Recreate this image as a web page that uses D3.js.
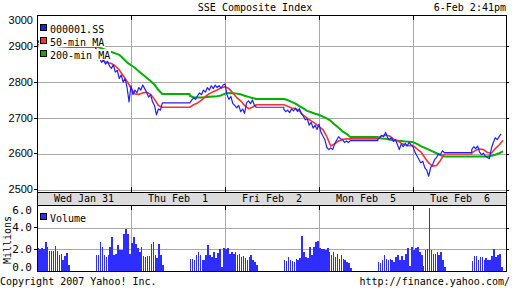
<!DOCTYPE html>
<html>
<head>
<meta charset="utf-8">
<script src="https://d3js.org/d3.v7.min.js"></script>
<style>
  body { margin: 0; background: #fff; }
  svg text { font-family: "DejaVu Sans Mono", monospace; font-size: 10px; fill: #000; }
  svg text.num { font-family: "Liberation Sans", Arial, sans-serif; font-size: 11px; }
  svg text.vnum { font-family: "DejaVu Sans Mono", monospace; font-size: 11px; }
  .grid { stroke: #a8a8a8; stroke-width: 1; shape-rendering: crispEdges; }
  .frame { stroke: #000; stroke-width: 1; shape-rendering: crispEdges; }
</style>
</head>
<body>
<div id="chart"></div>
<script>
// five trading days shown, 48 slots per day
var dayLabels = ["Wed Jan 31", "Thu Feb  1", "Fri Feb  2", "Mon Feb  5", "Tue Feb  6"];
var slotsPerDay = 48;

// slot where each trading session opens (first one is cut at the left edge)
var sessionOpen = [0, 30, 78, 126, 174, 222];

// index, one reading per slot
var close = [
  [2918, 2912, 2922, 2915, 2908, 2912, 2905, 2915, 2910, 2904, 2912, 2906, 2902, 2910, 2905, 2912, 2912],
  [2878, 2862, 2866, 2855, 2862, 2850, 2858, 2845, 2838, 2848, 2828, 2833, 2810, 2820, 2800, 2810, 2785, 2745,
   2790, 2765, 2778, 2770, 2785, 2778, 2792, 2782, 2772, 2758, 2765, 2745, 2735, 2709, 2725, 2722, 2742],
  [2742, 2750, 2756, 2752, 2762, 2770, 2765, 2778, 2772, 2785, 2778, 2790, 2782, 2792, 2785, 2790, 2783, 2792,
   2795, 2765, 2752, 2760, 2740, 2735, 2728, 2735, 2718, 2725, 2713, 2742, 2748, 2740, 2750, 2736, 2730],
  [2725, 2718, 2722, 2715, 2725, 2720, 2728, 2718, 2726, 2712, 2705, 2695, 2698, 2680, 2688, 2672, 2680, 2668,
   2683, 2660, 2650, 2640, 2618, 2612, 2617, 2612, 2628, 2638, 2648, 2642, 2640, 2632, 2636, 2632, 2637],
  [2640, 2645, 2652, 2648, 2660, 2645, 2640, 2645, 2635, 2640, 2627, 2612, 2628, 2620, 2630, 2622, 2632, 2625,
   2620, 2605, 2595, 2585, 2575, 2580, 2562, 2555, 2538, 2562, 2570, 2584, 2590, 2600, 2598, 2609, 2604],
  [2612, 2620, 2615, 2622, 2605, 2598, 2602, 2593, 2590, 2587, 2615, 2632, 2645, 2640, 2648, 2656]
];
// moving averages, one reading every 2 slots
var ma50 = [
  [2905, 2904, 2903, 2902, 2901, 2900, 2899, 2898, 2897],
  [2893, 2872, 2858, 2854, 2852, 2845, 2834, 2818, 2802, 2783, 2767, 2766, 2770, 2772, 2766, 2752, 2735, 2730],
  [2730, 2737, 2742, 2750, 2760, 2768, 2773, 2778, 2784, 2787, 2782, 2770, 2757, 2748, 2735, 2726, 2730, 2737],
  [2737, 2733, 2728, 2726, 2720, 2708, 2700, 2692, 2685, 2676, 2668, 2648, 2622, 2628, 2636, 2640, 2642, 2642],
  [2645, 2650, 2653, 2650, 2642, 2637, 2630, 2625, 2623, 2624, 2614, 2606, 2590, 2575, 2566, 2568, 2582, 2600],
  [2603, 2610, 2614, 2612, 2604, 2602, 2615, 2625, 2638]
];
var ma200 = [
  [2912, 2911, 2910, 2909, 2908, 2907, 2906, 2905, 2904],
  [2900, 2896, 2892, 2888, 2884, 2880, 2876, 2866, 2855, 2847, 2840, 2830, 2821, 2812, 2803, 2793, 2778, 2767],
  [2762, 2758, 2757, 2757, 2758, 2759, 2760, 2761, 2763, 2768, 2770, 2769, 2768, 2766, 2762, 2759, 2756, 2753],
  [2753, 2750, 2745, 2740, 2733, 2727, 2720, 2716, 2712, 2709, 2704, 2699, 2692, 2682, 2673, 2663, 2656, 2647],
  [2645, 2643, 2642, 2640, 2638, 2637, 2636, 2635, 2634, 2633, 2628, 2622, 2617, 2612, 2607, 2602, 2597, 2593],
  [2593, 2593, 2593, 2593, 2593, 2595, 2598, 2602, 2607]
];

// volume in millions, one bar per slot
var volume = [
  [2.1, 2.0, 2.15, 2.05, 2.65, 2.2, 1.85, 1.85, 1.85, 2.3, 1.85, 1.5, 1.6, 1.0, 1.4, 1.7, 0.6],
  [1.5, 1.5, 2.65, 2.2, 1.5, 1.3, 1.5, 2.25, 3.1, 1.5, 1.6, 2.4, 1.9, 1.95, 3.4, 3.9, 3.4, 1.55, 2.55, 3.15, 2.45, 2.1, 1.8, 2.25, 1.4, 1.25, 1.4, 1.4, 2.45, 2.7, 1.45, 1.2, 2.45, 1.5, 0.6],
  [1.1, 1.1, 1.0, 1.5, 1.75, 1.5, 1.0, 1.0, 1.5, 2.4, 1.5, 1.3, 1.75, 1.2, 1.7, 2.0, 0.4, 2.1, 2.05, 2.1, 1.6, 1.75, 1.6, 1.75, 1.5, 1.6, 1.3, 1.4, 1.2, 1.0, 1.25, 1.5, 1.0, 0.85, 0.55],
  [1.0, 0.9, 1.3, 1.0, 0.9, 0.85, 1.1, 1.0, 1.2, 3.25, 1.8, 1.3, 1.2, 2.25, 1.5, 2.25, 2.65, 2.8, 2.1, 2.0, 2.05, 1.9, 2.1, 1.8, 1.5, 1.8, 1.3, 1.6, 1.15, 1.5, 1.15, 1.0, 0.8, 0.75, 0.25],
  [0.85, 0.7, 1.0, 1.5, 1.15, 1.0, 1.15, 1.0, 0.8, 1.3, 1.45, 1.0, 1.35, 1.0, 1.6, 2.1, 0.45, 2.25, 1.95, 2.1, 2.2, 1.8, 1.5, 0.5, 1.9, 2.0, 5.85, 1.9, 1.6, 1.55, 1.75, 1.5, 1.75, 1.0, 0.4],
  [0.9, 1.35, 1.35, 1.0, 1.3, 1.3, 1.0, 1.2, 1.0, 1.0, 1.4, 2.0, 1.3, 1.45, 1.6, 0.4]
];

var priceTicks = [2500, 2600, 2700, 2800, 2900, 3000];
var volTicks = [0, 2, 4, 6];
var volTickLabels = ["0.0", "2.0", "4.0", "6.0"];

var width = 512, height = 288;
var left = 37, right = 506;
var pTop = 15, pBottom = 192, vTop = 205, vBottom = 271;

var svg = d3.select("#chart").append("svg")
  .attr("width", width)
  .attr("height", height);

var x = d3.scaleLinear().domain([0, slotsPerDay * dayLabels.length]).range([left, 507]);
var yP = d3.scaleLinear().domain([2494, 2987]).range([pBottom, pTop]);
var yV = d3.scaleLinear().domain([0, 6]).range([vBottom, 206]);

var dayBounds = d3.range(1, dayLabels.length).map(function(d) { return d * slotsPerDay; });

// gridlines
var grid = svg.append("g");
grid.selectAll("line.hp")
    .data(priceTicks.filter(function(d) { return yP(d) > pTop; }))
  .enter().append("line")
    .attr("class", "grid")
    .attr("x1", left).attr("x2", right)
    .attr("y1", function(d) { return Math.round(yP(d)) + 0.5; })
    .attr("y2", function(d) { return Math.round(yP(d)) + 0.5; });
grid.selectAll("line.hv")
    .data(volTicks.filter(function(d) { return d > 0 && yV(d) > vTop + 2; }))
  .enter().append("line")
    .attr("class", "grid")
    .attr("x1", left).attr("x2", right)
    .attr("y1", function(d) { return Math.round(yV(d)) + 0.5; })
    .attr("y2", function(d) { return Math.round(yV(d)) + 0.5; });
[[pTop, pBottom], [vTop, vBottom]].forEach(function(p) {
  grid.selectAll(null)
      .data(dayBounds)
    .enter().append("line")
      .attr("class", "grid")
      .attr("x1", function(d) { return Math.round(x(d)) + 0.5; })
      .attr("x2", function(d) { return Math.round(x(d)) + 0.5; })
      .attr("y1", p[0]).attr("y2", p[1]);
  // black ticks at top and bottom of each day line
  [[p[0], p[0] + 5], [p[1] - 5, p[1]]].forEach(function(t) {
    grid.selectAll(null)
        .data(dayBounds)
      .enter().append("line")
        .attr("class", "frame")
        .attr("x1", function(d) { return Math.round(x(d)) + 0.5; })
        .attr("x2", function(d) { return Math.round(x(d)) + 0.5; })
        .attr("y1", t[0]).attr("y2", t[1]);
  });
});

// volume bars
var bars = [];
volume.forEach(function(sess, k) {
  sess.forEach(function(v, j) { bars.push({ s: sessionOpen[k] + j, v: v }); });
});
svg.append("g")
  .selectAll("rect")
    .data(bars)
  .enter().append("rect")
    .attr("x", function(d) { return x(d.s); })
    .attr("width", 1.7)
    .attr("y", function(d) { return yV(d.v); })
    .attr("height", function(d) { return vBottom - yV(d.v); })
    .attr("fill", "#2e2eff")
    .attr("shape-rendering", "crispEdges");

// price lines: value held flat while the market is closed
function points(data, step) {
  var pts = [];
  data.forEach(function(sess, k) {
    var s0 = sessionOpen[k];
    if (k > 0) pts.push([s0, pts[pts.length - 1][1]]);
    sess.forEach(function(v, i) { pts.push([s0 + step * i, v]); });
  });
  return pts;
}
var line = d3.line()
  .x(function(d) { return x(d[0]); })
  .y(function(d) { return yP(d[1]); });

var lines = [
  { data: ma200, step: 2, color: "#00b000", w: 2 },
  { data: ma50, step: 2, color: "#ff3030", w: 1.6 },
  { data: close, step: 1, color: "#2020ff", w: 1.2 }
];
svg.append("g")
  .selectAll("path")
    .data(lines)
  .enter().append("path")
    .attr("d", function(d) { return line(points(d.data, d.step)); })
    .attr("fill", "none")
    .attr("stroke", function(d) { return d.color; })
    .attr("stroke-width", function(d) { return d.w; })
    .attr("stroke-linejoin", "round");

// date band
svg.append("rect")
  .attr("x", left).attr("y", pBottom)
  .attr("width", right - left).attr("height", vTop - pBottom)
  .attr("fill", "#dcdcdc");
svg.append("g")
  .selectAll("text")
    .data(dayLabels)
  .enter().append("text")
    .attr("x", function(d, i) { return x(i * slotsPerDay + slotsPerDay / 2); })
    .attr("y", 202)
    .attr("text-anchor", "middle")
    .attr("xml:space", "preserve")
    .text(function(d) { return d; });

// frame
var frame = svg.append("g");
[[left, pTop, right, pTop], [left, pBottom, right, pBottom], [left, vTop, right, vTop],
 [left, vBottom, right, vBottom]].forEach(function(l) {
  frame.append("line").attr("class", "frame")
    .attr("x1", l[0]).attr("y1", l[1] + 0.5).attr("x2", l[2] + 1).attr("y2", l[3] + 0.5);
});
[left, right].forEach(function(xx) {
  frame.append("line").attr("class", "frame")
    .attr("x1", xx + 0.5).attr("x2", xx + 0.5).attr("y1", pTop).attr("y2", vBottom + 1);
});

// price axis
var pAxis = svg.append("g")
  .attr("transform", "translate(" + left + ",0)")
  .call(d3.axisLeft(yP).tickValues(priceTicks).tickSize(3).tickFormat(d3.format("d")));
pAxis.select(".domain").remove();
pAxis.selectAll(".tick")
  .attr("transform", function(d) { return "translate(0," + Math.max(pTop + 5, yP(d)) + ")"; });
pAxis.selectAll(".tick line")
  .attr("display", function(d) { return yP(d) < pTop ? "none" : null; })
  .attr("shape-rendering", "crispEdges");
pAxis.selectAll(".tick text").attr("class", "num").attr("x", -4).attr("fill", "#000");
pAxis.attr("font-family", null).attr("font-size", null);

// right side ticks
svg.append("g").selectAll("line")
    .data(priceTicks.filter(function(d) { return yP(d) > pTop; }))
  .enter().append("line").attr("class", "frame")
    .attr("x1", right).attr("x2", right + 3)
    .attr("y1", function(d) { return Math.round(yP(d)) + 0.5; })
    .attr("y2", function(d) { return Math.round(yP(d)) + 0.5; });
svg.append("g").selectAll("line")
    .data(volTicks.filter(function(d) { return d > 0 && d < 6; }))
  .enter().append("line").attr("class", "frame")
    .attr("x1", right).attr("x2", right + 3)
    .attr("y1", function(d) { return Math.round(yV(d)) + 0.5; })
    .attr("y2", function(d) { return Math.round(yV(d)) + 0.5; });

// volume axis
var vAxis = svg.append("g")
  .attr("transform", "translate(" + left + ",0)")
  .call(d3.axisLeft(yV).tickValues(volTicks).tickSize(3)
    .tickFormat(function(d, i) { return volTickLabels[i]; }));
vAxis.select(".domain").remove();
vAxis.selectAll(".tick")
  .attr("transform", function(d) { return "translate(0," + Math.min(vBottom - 4, Math.max(vTop + 5, yV(d))) + ")"; });
vAxis.selectAll(".tick line").attr("shape-rendering", "crispEdges")
  .attr("display", function(d) { return d === 0 || d === 6 ? "none" : null; });
vAxis.selectAll(".tick text").attr("class", "vnum").attr("x", -5).attr("fill", "#000");
vAxis.attr("font-family", null).attr("font-size", null);

svg.append("text")
  .attr("transform", "translate(11,240) rotate(-90)")
  .attr("text-anchor", "middle")
  .text("Millions");

// legends
var legendItems = [
  { name: "000001.SS", color: "#2020ff" },
  { name: "50-min MA", color: "#ff3030" },
  { name: "200-min MA", color: "#00b000" }
];
var lg = svg.append("g");
legendItems.forEach(function(d, i) {
  var base = 33 + i * 13;
  lg.append("rect").attr("x", 39).attr("y", base - 10).attr("width", d.name.length * 6 + 12)
    .attr("height", 11).attr("fill", "#fff");
  lg.append("rect").attr("x", 40.5).attr("y", base - 8.5).attr("width", 6).attr("height", 6)
    .attr("fill", d.color).attr("stroke", "#000").attr("stroke-width", 1)
    .attr("shape-rendering", "crispEdges");
  lg.append("text").attr("x", 50).attr("y", base).text(d.name);
});
lg.append("rect").attr("x", 40.5).attr("y", 213.5).attr("width", 6).attr("height", 6)
  .attr("fill", "#2e2eff").attr("stroke", "#000").attr("shape-rendering", "crispEdges");
lg.append("text").attr("x", 50).attr("y", 222).text("Volume");

// titles
svg.append("text").attr("x", 255).attr("y", 11).attr("text-anchor", "middle").text("SSE Composite Index");
svg.append("text").attr("x", 506).attr("y", 11).attr("text-anchor", "end").text("6-Feb 2:41pm");
svg.append("text").attr("x", 0).attr("y", 285).text("Copyright 2007 Yahoo! Inc.");
svg.append("text").attr("x", 510).attr("y", 285).attr("text-anchor", "end").text("http://finance.yahoo.com/");
</script>
</body>
</html>
